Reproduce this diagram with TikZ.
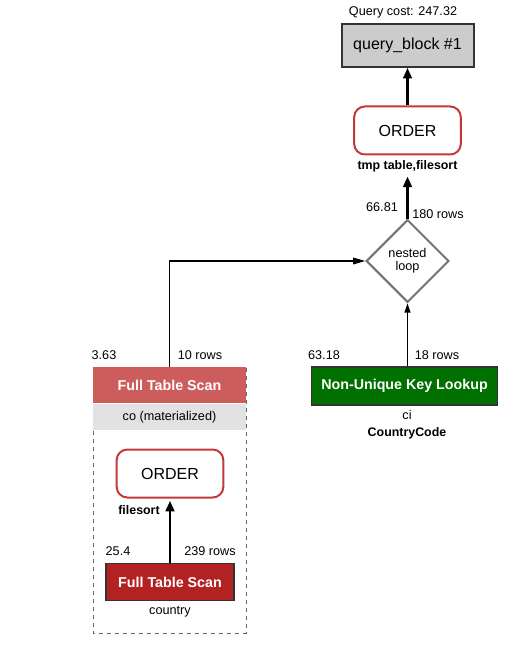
\documentclass[tikz,border=0pt]{standalone}
\usepackage{fontspec}
\setmainfont{Liberation Sans}
\usetikzlibrary{shapes.geometric,arrows.meta}
\definecolor{ordred}{RGB}{196,56,56}
\definecolor{scanlight}{RGB}{205,92,92}
\definecolor{scandark}{RGB}{178,34,34}
\definecolor{lookgreen}{RGB}{0,112,0}
\definecolor{blockgray}{RGB}{204,204,204}
\definecolor{bandgray}{RGB}{226,226,226}
\begin{document}
\begin{tikzpicture}[x=0.75pt,y=-0.75pt,
 small/.style={font=\fontsize{9.5}{10}\selectfont},
 smallbold/.style={font=\fontsize{9.3}{10}\selectfont\bfseries},
 qblock/.style={draw=black!80,line width=1.5pt,fill=blockgray,minimum width=99pt,minimum height=32pt,font=\fontsize{12}{13}\selectfont},
 ordbox/.style={draw=ordred,line width=1.5pt,fill=white,rounded corners=8pt,minimum width=80pt,minimum height=36pt,font=\fontsize{12}{13}\selectfont},
 loopbox/.style={diamond,draw=black!55,line width=1.5pt,fill=white,minimum width=62pt,minimum height=62pt,inner sep=0pt,align=center,font=\fontsize{9.5}{9.5}\selectfont},
 scanlt/.style={fill=scanlight,text=white,minimum width=115pt,minimum height=27pt,font=\fontsize{10.7}{11}\selectfont\bfseries},
 scandk/.style={draw=black!80,line width=0.8pt,fill=scandark,text=white,minimum width=96pt,minimum height=28pt,font=\fontsize{10.7}{11}\selectfont\bfseries},
 lookbox/.style={draw=black!80,line width=0.8pt,fill=lookgreen,text=white,minimum width=140pt,minimum height=28.5pt,font=\fontsize{10.7}{11}\selectfont\bfseries},
 matband/.style={fill=bandgray,minimum width=115pt,minimum height=20pt,font=\fontsize{9.5}{10}\selectfont},
 grpframe/.style={draw=black!60,dashed,line width=0.6pt},
 flow/.style={line width=1.9pt,-{Triangle[length=8pt,width=6.5pt]}},
 midflow/.style={line width=1.1pt,-{Triangle[length=7pt,width=4.5pt]}},
 thinflow/.style={line width=0.8pt,-{Triangle[length=9pt,width=5pt]}}]
\useasboundingbox (0,0) rectangle (521,648);

\coordinate (grpnw) at (93,367);
\coordinate (grpse) at (246,633);
\draw[grpframe] (grpnw) rectangle (grpse);

\node[small] (qcost) at (403,12) {Query cost: 247.32};
\node[qblock] (qb) at (407.5,45.5) {query\_block \#1};
\node[ordbox] (ord) at (407.5,130.5) {ORDER};
\node[smallbold] (ordlbl) at (407.5,166) {tmp table,filesort};
\node[loopbox] (nl) at (407.5,261) {nested\\loop};
\node[small] (nlcost) at (382,207) {66.81};
\node[small] (nlrows) at (438,214) {180 rows};

\node[scanlt] (fts) at (169.5,385) {Full Table Scan};
\node[matband,anchor=north] (mat) at (fts.south) {co (materialized)};
\node[small] (ftscost) at (104,355) {3.63};
\node[small] (ftsrows) at (200,355) {10 rows};

\node[lookbox] (nukl) at (404.5,386) {Non-Unique Key Lookup};
\node[small] (nuklcost) at (324,355) {63.18};
\node[small] (nuklrows) at (437,355) {18 rows};
\node[small] (ci) at (407,415) {ci};
\node[smallbold] (cc) at (407,433) {CountryCode};

\node[ordbox] (ord2) at (170,473.5) {ORDER};
\node[smallbold] (fsl) at (139,510) {filesort};
\node[scandk] (fts2) at (170,582) {Full Table Scan};
\node[small] (fts2cost) at (118,551) {25.4};
\node[small] (fts2rows) at (210,551) {239 rows};
\node[small] (ctry) at (170,612) {country};

\draw[flow] (ord.north) -- (qb.south);
\draw[flow] (nl.north) -- (ordlbl.south);
\draw[thinflow] (fts.north) |- (nl.west);
\draw[midflow] (nukl.north -| nl.south) -- (nl.south);
\draw[flow] (fts2.north) -- (fts2.north |- fsl.north);
\end{tikzpicture}
\end{document}
